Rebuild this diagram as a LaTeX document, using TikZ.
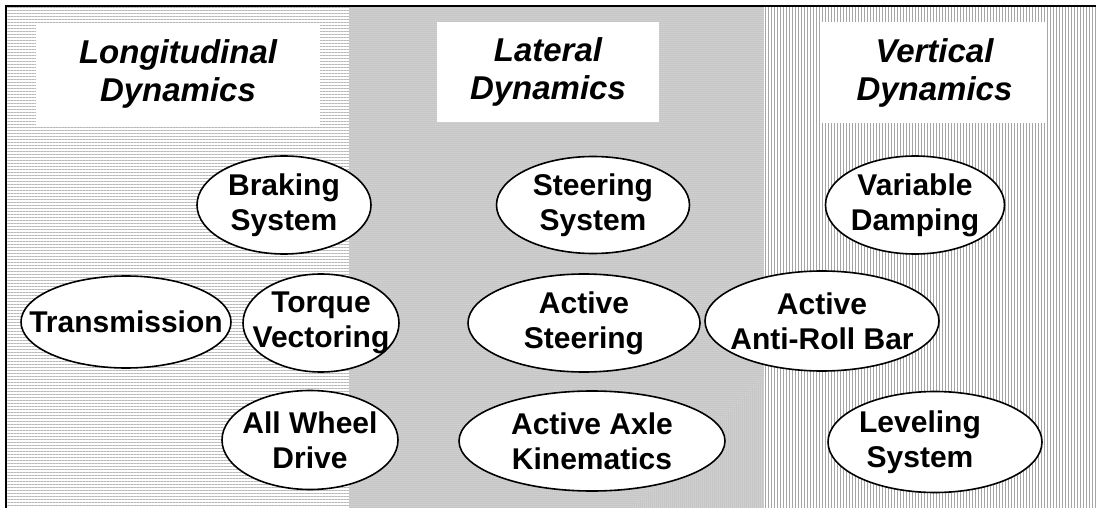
\documentclass[tikz,border=0pt]{standalone}
\usepackage{fontspec}
\setmainfont{Liberation Sans}
\usetikzlibrary{shapes.geometric,patterns.meta}
\begin{document}
\begin{tikzpicture}[x=1pt,y=-1pt,
 ell/.style={ellipse,draw,line width=1.6pt,fill=white,inner sep=0pt},
 etxt/.style={font=\fontsize{30}{35}\selectfont\bfseries,align=center,inner sep=0pt},
 tbox/.style={fill=white,inner sep=0pt},
 ttxt/.style={font=\fontsize{33}{38}\selectfont\bfseries\itshape,align=center,inner sep=0pt},
 frame/.style={line width=2.4pt}]
\useasboundingbox (0,0) rectangle (1096,508);
% background regions
\fill[white] (7,7) rectangle (349,508);
\fill[pattern={Lines[angle=0,distance=3pt,line width=0.7pt]},pattern color=black!28] (7,7) rectangle (349,508);
\fill[black!16] (349,7) rectangle (764,508);
\fill[pattern={Dots[distance=2pt,radius=0.5pt]},pattern color=black!45] (349,7) rectangle (764,508);
\fill[white] (764,7) rectangle (1096,508);
\fill[pattern={Lines[angle=90,distance=3pt,line width=1pt]},pattern color=black!35] (764,7) rectangle (1096,508);
\draw[frame] (6,508) -- (6,6) -- (1096,6);
% titles
\node[tbox,minimum width=284,minimum height=102] (tl) at (178,74) {};
\node[ttxt] (tlt) at (tl.center) {Longitudinal\\Dynamics};
\node[tbox,minimum width=222,minimum height=100] (tm) at (548,72) {};
\node[ttxt] (tmt) at (tm.center) {Lateral\\Dynamics};
\node[tbox,minimum width=225,minimum height=101] (tr) at (934.5,72.5) {};
\node[ttxt] (trt) at (tr.center) {Vertical\\Dynamics};
% ellipses
\node[ell,minimum width=174,minimum height=98] (brk) at (284,205) {};
\node[etxt] (brkt) at (brk.center) {Braking\\System};
\node[ell,minimum width=193,minimum height=97] (ste) at (593,205) {};
\node[etxt] (stet) at (ste.center) {Steering\\System};
\node[ell,minimum width=179,minimum height=98] (vd) at (915,205) {};
\node[etxt] (vdt) at (vd.center) {Variable\\Damping};
\node[ell,minimum width=210,minimum height=92] (tra) at (126,322) {};
\node[etxt] (trat) at (tra.center) {Transmission};
\node[ell,minimum width=156,minimum height=98] (tv) at (321,323) {};
\node[etxt] (tvt) at (tv.center) {Torque\\Vectoring};
\node[ell,minimum width=232,minimum height=98] (as) at (584,323) {};
\node[etxt] (ast) at (as.center) {Active\\Steering};
\node[ell,minimum width=234,minimum height=100] (arb) at (822,321) {};
\node[etxt] (arbt) at (arb.center) {Active\\Anti-Roll Bar};
\node[ell,minimum width=176,minimum height=99] (awd) at (310,440) {};
\node[etxt] (awdt) at (awd.center) {All Wheel\\Drive};
\node[ell,minimum width=266,minimum height=100] (aak) at (592,441) {};
\node[etxt] (aakt) at (aak.center) {Active Axle\\Kinematics};
\node[ell,minimum width=214,minimum height=101] (lev) at (935,442) {};
\node[etxt] (levt) at (920,442) {Leveling\\System};
\end{tikzpicture}
\end{document}
